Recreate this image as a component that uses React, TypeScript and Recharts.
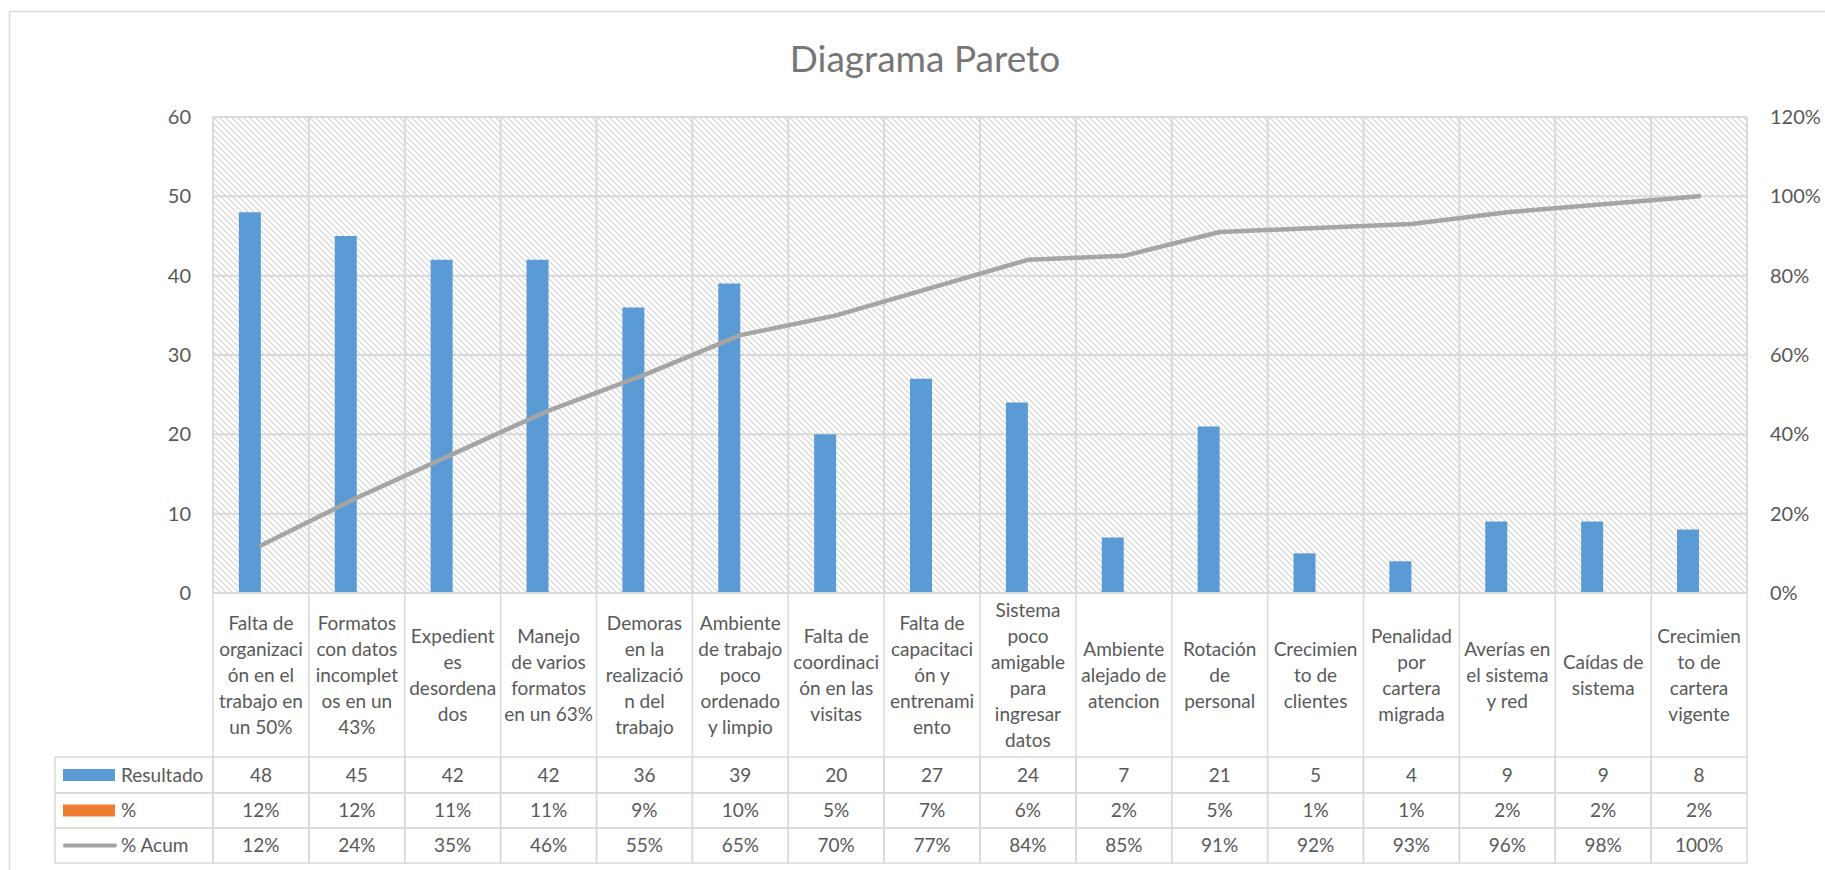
import React from "react";
import { ComposedChart, Bar, Line, XAxis, YAxis, CartesianGrid } from "recharts";

// Pareto data: causes, counts, share and cumulative share
const categories = [
  "Falta de\norganizaci\nón en el\ntrabajo en\nun 50%",
  "Formatos\ncon datos\nincomplet\nos en un\n43%",
  "Expedient\nes\ndesordena\ndos",
  "Manejo\nde varios\nformatos\nen un 63%",
  "Demoras\nen la\nrealizació\nn del\ntrabajo",
  "Ambiente\nde trabajo\npoco\nordenado\ny limpio",
  "Falta de\ncoordinaci\nón en las\nvisitas",
  "Falta de\ncapacitaci\nón y\nentrenami\nento",
  "Sistema\npoco\namigable\npara\ningresar\ndatos",
  "Ambiente\nalejado de\natencion",
  "Rotación\nde\npersonal",
  "Crecimien\nto de\nclientes",
  "Penalidad\npor\ncartera\nmigrada",
  "Averías en\nel sistema\ny red",
  "Caídas de\nsistema",
  "Crecimien\nto de\ncartera\nvigente",
];
const resultado = [48, 45, 42, 42, 36, 39, 20, 27, 24, 7, 21, 5, 4, 9, 9, 8];
const porcentaje = [0.12, 0.12, 0.11, 0.11, 0.09, 0.1, 0.05, 0.07, 0.06, 0.02, 0.05, 0.01, 0.01, 0.02, 0.02, 0.02];
const acumulado = [0.12, 0.24, 0.35, 0.46, 0.55, 0.65, 0.7, 0.77, 0.84, 0.85, 0.91, 0.92, 0.93, 0.96, 0.98, 1.0];
const leftTicks = [0, 10, 20, 30, 40, 50, 60];
const rightTicks = [0, 0.2, 0.4, 0.6, 0.8, 1.0, 1.2];
const seriesNames = ["Resultado", "%", "% Acum"];

const data = categories.map((name, i) => ({
  name,
  resultado: resultado[i],
  pct: porcentaje[i],
  acum: acumulado[i],
}));

const W = 1825;
const H = 870;
const LEFT = 213;
const RIGHT = 1747;
const TOP = 117;
const CELL = (RIGHT - LEFT) / categories.length;
const LABEL_H = 164;
const ROWS = [36, 35, 35];
const LEGEND_W = 158;
const FS = 19;

const GRID = "#D9D9D9";
const TEXT = "#595959";
const FONT = "Lato, 'Noto Sans', sans-serif";
const BLUE = "#5B9BD5";
const ORANGE = "#ED7D31";
const GRAY = "#A5A5A5";

const pctLabel = (v: number) => `${Math.round(v * 100)}%`;

// draws the category label cell plus the data table column under it
function TableTick(props: any) {
  const { x, y, index, payload } = props;
  const row = data[index];
  const left = x - CELL / 2;
  const lines = String(payload.value).split("\n");
  const mid = y + LABEL_H / 2;
  const values = [String(row.resultado), pctLabel(row.pct), pctLabel(row.acum)];

  let top = y + LABEL_H;
  const cells = values.map((v, r) => {
    const cy = top + ROWS[r] / 2;
    const el = (
      <g key={r}>
        <rect x={left} y={top} width={CELL} height={ROWS[r]} fill="none" stroke={GRID} strokeWidth={1.5} />
        <text x={x} y={cy} dy="0.36em" textAnchor="middle" fontSize={FS} fill={TEXT}>
          {v}
        </text>
      </g>
    );
    top += ROWS[r];
    return el;
  });

  let legend = null;
  if (index === 0) {
    let ly = y + LABEL_H;
    const lx = left - LEGEND_W;
    legend = seriesNames.map((s, r) => {
      const cy = ly + ROWS[r] / 2;
      const key =
        r === 2 ? (
          <line x1={lx + 10} x2={lx + 60} y1={cy} y2={cy} stroke={GRAY} strokeWidth={4} strokeLinecap="round" />
        ) : (
          <rect x={lx + 8} y={cy - 6} width={52} height={12} fill={r === 0 ? BLUE : ORANGE} />
        );
      const el = (
        <g key={s}>
          <rect x={lx} y={ly} width={LEGEND_W} height={ROWS[r]} fill="none" stroke={GRID} strokeWidth={1.5} />
          {key}
          <text x={lx + 66} y={cy} dy="0.36em" fontSize={FS} fill={TEXT}>
            {s}
          </text>
        </g>
      );
      ly += ROWS[r];
      return el;
    });
  }

  return (
    <g fontFamily={FONT}>
      <line x1={left} x2={left} y1={y} y2={y + LABEL_H} stroke={GRID} strokeWidth={1.5} />
      {index === categories.length - 1 && (
        <line x1={left + CELL} x2={left + CELL} y1={y} y2={y + LABEL_H} stroke={GRID} strokeWidth={1.5} />
      )}
      <text textAnchor="middle" fontSize={FS} fill={TEXT}>
        {lines.map((ln, i) => (
          <tspan key={i} x={x} y={mid + (i - (lines.length - 1) / 2) * 26} dy="0.36em">
            {ln}
          </tspan>
        ))}
      </text>
      {cells}
      {legend}
    </g>
  );
}

export default function App() {
  return (
    <div style={{ position: "fixed", left: 0, top: 0, width: W, height: H, background: "#fff" }}>
      <ComposedChart
        width={W}
        height={H}
        data={data}
        margin={{ top: TOP, right: 8, bottom: 7, left: 143 }}
        barCategoryGap="27%"
        barGap={0}
      >
        <defs>
          <pattern id="hatch" width={6} height={6} patternUnits="userSpaceOnUse">
            <rect width={6} height={6} fill="#fff" />
            <path d="M-1,-1 L7,7 M-1,5 L1,7 M5,-1 L7,1" stroke="#D2D2D2" strokeWidth={1.1} />
          </pattern>
        </defs>
        <rect x={9.5} y={11.5} width={W} height={H} fill="none" stroke={GRID} strokeWidth={1.5} />
        <text
          x={925}
          y={72}
          textAnchor="middle"
          fontSize={37}
          fontFamily={FONT}
          fill="#767676"
        >
          Diagrama Pareto
        </text>
        <CartesianGrid
          yAxisId="left"
          stroke={GRID}
          strokeWidth={2}
          fill="url(#hatch)"
          fillOpacity={1}
          verticalCoordinatesGenerator={() =>
            Array.from({ length: categories.length + 1 }, (_, i) => LEFT + i * CELL)
          }
        />
        <XAxis
          dataKey="name"
          height={270}
          interval={0}
          tickSize={0}
          tickMargin={0}
          tickLine={false}
          axisLine={{ stroke: GRID, strokeWidth: 2 }}
          tick={<TableTick />}
        />
        <YAxis
          yAxisId="left"
          domain={[0, 60]}
          ticks={leftTicks}
          width={70}
          tickSize={0}
          tickMargin={22}
          axisLine={false}
          tickLine={false}
          tick={{ fill: TEXT, fontSize: 20, fontFamily: FONT }}
        />
        <YAxis
          yAxisId="right"
          orientation="right"
          domain={[0, 1.2]}
          ticks={rightTicks}
          width={70}
          tickSize={0}
          tickMargin={23}
          axisLine={false}
          tickLine={false}
          tickFormatter={pctLabel}
          tick={{ fill: TEXT, fontSize: 20, fontFamily: FONT }}
        />
        <Bar yAxisId="left" dataKey="resultado" name="Resultado" fill={BLUE} isAnimationActive={false} />
        <Bar yAxisId="left" dataKey="pct" name="%" fill={ORANGE} isAnimationActive={false} />
        <Line
          yAxisId="right"
          dataKey="acum"
          name="% Acum"
          type="linear"
          stroke={GRAY}
          strokeWidth={4.5}
          strokeLinecap="round"
          strokeLinejoin="round"
          dot={false}
          activeDot={false}
          isAnimationActive={false}
        />
      </ComposedChart>
    </div>
  );
}
